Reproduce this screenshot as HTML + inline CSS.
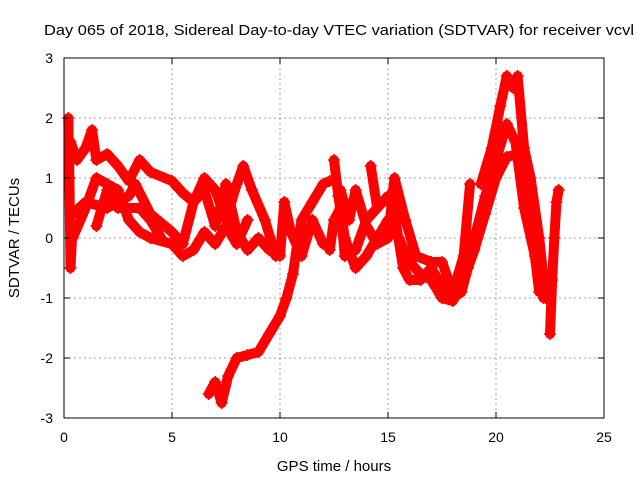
<!DOCTYPE html>
<html><head><meta charset="utf-8"><style>
body{margin:0;background:#fff}
svg{display:block;font-family:"Liberation Sans",sans-serif}
</style></head><body>
<svg id="chart" width="640" height="480" viewBox="0 0 640 480">
<text x="44" y="35" font-size="15" textLength="590" lengthAdjust="spacingAndGlyphs">Day 065 of 2018, Sidereal Day-to-day VTEC variation (SDTVAR) for receiver vcvl</text>
<text transform="translate(19,238) rotate(-90)" text-anchor="middle" font-size="15">SDTVAR / TECUs</text>
<text x="334" y="471" text-anchor="middle" font-size="15">GPS time / hours</text>
<g id="grid"></g><g id="marks"></g><g id="axes"></g>
</svg>
<script>
const xTicks=[0,5,10,15,20,25];
const yTicks=[-3,-2,-1,0,1,2,3];
const traceA=[[0.3,1.6],[0.6,1.3],[1.0,1.5],[1.3,1.8],[1.5,1.3],[2.0,1.4],[2.5,1.2],[3.0,0.95],[3.5,1.3],[4.0,1.1],[5.0,0.95],[5.5,0.75],[6.0,0.6],[6.5,1.0],[7.0,0.8],[7.5,0.3],[8.0,0.9],[8.3,1.2],[8.7,0.8],[9.3,0.3],[9.8,-0.3]];
const traceB=[[0.4,0.4],[1.0,0.6],[2.0,0.5],[3.0,0.7],[3.3,0.9],[4.0,0.4],[5.0,0.1],[5.5,-0.1],[6.0,0.6],[6.5,0.8],[7.0,0.2],[7.5,0.9],[8.0,0.1],[8.5,-0.2],[9.0,0.0],[9.5,-0.2]];
const traceC=[[0.4,0.0],[1.0,0.5],[1.5,1.0],[2.0,0.9],[2.5,0.8],[3.0,0.3],[3.5,0.1],[4.0,0.0],[5.0,-0.1],[5.5,-0.3],[6.0,-0.2],[6.5,0.1],[7.0,-0.1],[7.5,0.2],[8.0,-0.1],[8.5,0.3]];
const traceD=[[1.5,0.2],[2.0,0.8],[2.5,0.5],[3.5,0.5],[4.0,0.3],[4.5,0.0]];
const traceE=[[6.7,-2.6],[7.0,-2.4],[7.3,-2.75],[7.6,-2.3],[8.0,-2.0],[8.5,-1.95],[9.0,-1.9],[9.5,-1.6],[10.0,-1.3],[10.3,-1.0],[10.6,-0.6],[10.8,-0.1],[11.0,0.3],[11.5,0.6],[12.0,0.9],[12.3,0.95]];
const traceF=[[10.0,-0.3],[10.2,0.6],[10.5,0.1],[11.0,-0.3],[11.5,0.3],[12.0,-0.1]];
const traceG=[[12.3,-0.2],[12.5,0.3],[12.8,0.5],[13.0,-0.3],[13.5,-0.2],[14.0,0.3],[14.5,0.5],[15.0,0.7],[15.3,0.4],[15.7,-0.5],[16.0,-0.7],[16.5,-0.7],[17.0,-0.5],[17.5,-0.8],[18.0,-1.0],[18.4,-0.9],[18.7,-0.5],[19.0,-0.2],[19.5,0.4],[20.0,1.0],[20.5,1.35],[21.0,1.4],[21.3,1.0],[21.7,0.3],[22.0,-0.5],[22.2,-1.0]];
const traceH=[[12.5,1.3],[12.7,0.7],[13.0,0.0],[13.5,-0.5],[14.0,-0.3],[14.5,0.0],[15.0,0.3],[15.5,0.0],[16.0,-0.4],[16.5,-0.6],[17.0,-0.7],[17.5,-1.0],[18.0,-1.05],[18.5,-0.5],[19.0,0.0],[19.5,0.7],[20.0,1.3],[20.5,1.9],[20.9,1.6],[21.3,0.5],[21.8,-0.3],[22.0,-0.9]];
const traceI=[[12.8,0.8],[13.2,0.3],[13.5,0.8],[14.0,0.2],[14.5,-0.1],[15.0,0.0],[15.3,1.0],[15.8,0.3],[16.3,-0.3],[17.0,-0.4],[17.5,-0.4],[18.0,-0.9],[18.5,-0.3],[18.8,0.9]];
const traceJ=[[19.3,0.9],[19.8,1.5],[20.2,2.2],[20.5,2.7],[20.8,2.5],[21.0,2.7],[21.3,1.5],[21.6,1.0],[22.0,0.0],[22.3,-1.0]];
const traceK=[[22.5,-1.6],[22.6,-0.7],[22.7,0.0],[22.8,0.6],[22.9,0.8]];
const traceL=[[0.2,2.0],[0.25,1.0],[0.3,-0.5],[0.4,0.2]];
const traceM=[[14.2,1.2],[14.5,0.5]];
const traces=[traceA,traceB,traceC,traceD,traceE,traceF,traceG,traceH,traceI,traceJ,traceK,traceL,traceM];
const NS="http://www.w3.org/2000/svg";
const X0=64,X1=604,Y0=418,Y1=58;
function sx(h){return X0+(h-0)/(25-0)*(X1-X0);}
function sy(v){return Y0-(v+3)/6*(Y0-Y1);}
function mk(tag,attrs,parent){const e=document.createElementNS(NS,tag);for(const k in attrs)e.setAttribute(k,attrs[k]);parent.appendChild(e);return e;}
const grid=document.getElementById('grid'),axes=document.getElementById('axes'),marks=document.getElementById('marks');
xTicks.forEach(t=>{
  if(t>0&&t<25){const l=mk('line',{x1:sx(t),x2:sx(t),y1:Y1,y2:Y0,stroke:'#a0a0a0','stroke-dasharray':'2,3'},grid);
  
  }
  const tk=mk('line',{x1:sx(t),x2:sx(t),y1:Y0,y2:Y0-6,stroke:'#000'},axes);
  
  
  const tk2=mk('line',{x1:sx(t),x2:sx(t),y1:Y1,y2:Y1+6,stroke:'#000'},axes);
  
  
  const tx=mk('text',{x:sx(t),y:Y0+24,'text-anchor':'middle','font-size':'14'},axes);tx.textContent=t;
  
  
});
yTicks.forEach(t=>{
  if(t>-3&&t<3){const l=mk('line',{x1:X0,x2:X1,y1:sy(t),y2:sy(t),stroke:'#a0a0a0','stroke-dasharray':'2,3'},grid);
  
  }
  const tk=mk('line',{x1:X0,x2:X0+6,y1:sy(t),y2:sy(t),stroke:'#000'},axes);
  
  
  const tk2=mk('line',{x1:X1,x2:X1-6,y1:sy(t),y2:sy(t),stroke:'#000'},axes);
  
  
  const tx=mk('text',{x:X0-11,y:sy(t)+5,'text-anchor':'end','font-size':'14'},axes);tx.textContent=t;
  
  
});
const fr=mk('rect',{x:X0,y:Y1,width:X1-X0,height:Y0-Y1,fill:'none',stroke:'#000'},axes);


traces.forEach(tr=>{
  const pl=mk('polyline',{points:tr.map(p=>sx(p[0])+','+sy(p[1])).join(' '),fill:'none',stroke:'#ff0000','stroke-width':'10','stroke-linejoin':'round','stroke-linecap':'round'},marks);
  
  
  tr.forEach(p=>{
    const x=sx(p[0]),y=sy(p[1]);
    const m=mk('path',{d:`M${x-6},${y}H${x+6}M${x},${y-6}V${y+6}`,stroke:'#ff0000','stroke-width':'1.5'},marks);
    
    
  });
});
</script>
</body></html>
